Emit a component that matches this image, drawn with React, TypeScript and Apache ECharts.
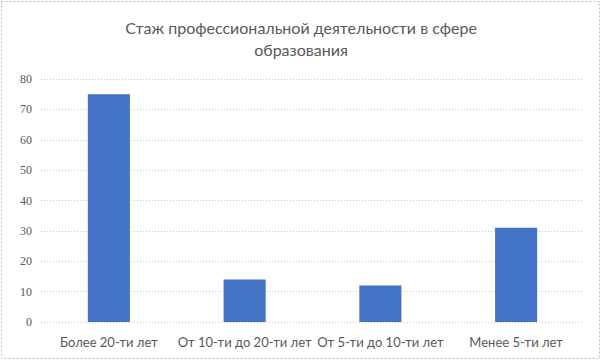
import React, { useEffect, useRef } from "react";
import * as echarts from "echarts";

const categories = ["Более 20-ти лет", "От 10-ти до 20-ти лет", "От 5-ти до 10-ти лет", "Менее 5-ти лет"];
const values = [75, 14, 12, 31];
const titleText = "Стаж профессиональной деятельности в сфере\nобразования";

export default function App() {
  const ref = useRef<HTMLDivElement>(null);
  useEffect(() => {
    if (!ref.current) return;
    const chart = echarts.init(ref.current, null, { renderer: "svg" });
    chart.setOption({
      animation: false,
      backgroundColor: "#ffffff",
      title: {
        text: titleText,
        left: "center",
        top: 11,
        textStyle: {
          fontFamily: "Lato",
          fontSize: 16,
          fontWeight: "normal",
          color: "#595959",
          lineHeight: 22,
        },
      },
      grid: { left: 41, right: 18, top: 79, bottom: 39 },
      xAxis: {
        type: "category",
        data: categories,
        axisLine: { show: false },
        axisTick: { show: false },
        axisLabel: {
          color: "#595959",
          fontFamily: "Lato",
          fontSize: 13,
          margin: 13,
          interval: 0,
        },
      },
      yAxis: {
        type: "value",
        min: 0,
        max: 80,
        interval: 10,
        axisLine: { show: false },
        axisTick: { show: false },
        axisLabel: {
          color: "#595959",
          fontFamily: "Liberation Serif",
          fontSize: 12,
          margin: 9,
        },
        splitLine: { lineStyle: { color: "#c8c8c8", type: [1, 2], width: 1 } },
      },
      series: [
        {
          type: "bar",
          data: values,
          barWidth: "31%",
          itemStyle: { color: "#4472C4" },
        },
      ],
      graphic: [
        {
          type: "rect",
          shape: { x: 1.5, y: 1.5, width: 598, height: 357 },
          style: { fill: "none", stroke: "#bfbfbf", lineWidth: 1, lineDash: [2, 2] },
          silent: true,
        },
      ],
    });
    return () => chart.dispose();
  }, []);
  return (
    <div
      ref={ref}
      style={{ position: "absolute", left: 0, top: 0, width: 602, height: 361 }}
    />
  );
}
